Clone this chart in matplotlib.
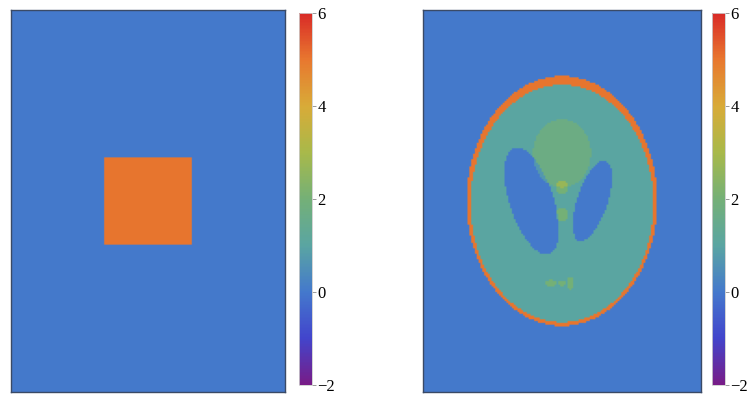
import numpy as np
import matplotlib
matplotlib.use("Agg")
import matplotlib.pyplot as plt
from matplotlib.colors import LinearSegmentedColormap

# ---- data ----
vmin, vmax = -2, 6
cbar_ticks = [-2, 0, 2, 4, 6]
cbar_labels = ["\u22122", "0", "2", "4", "6"]

# left panel: background + square
background_value = 0.0
square_half = 0.32
square_value = 5.0

# right panel: Shepp-Logan style ellipses (amplitude, semi-axis a, semi-axis b, x0, y0, angle deg)
ell_amp = [5.0, -4.0, -1.0, -1.0, 0.7, 1.0, 1.0, 1.0, 1.0, 1.0]
ell_a   = [0.69, 0.6624, 0.11, 0.16, 0.21, 0.046, 0.046, 0.046, 0.023, 0.023]
ell_b   = [0.92, 0.874, 0.31, 0.41, 0.25, 0.046, 0.046, 0.023, 0.023, 0.046]
ell_x0  = [0.0, 0.0, 0.22, -0.22, 0.0, 0.0, 0.0, -0.08, 0.0, 0.06]
ell_y0  = [0.0, -0.0184, 0.0, 0.0, 0.35, 0.1, -0.1, -0.605, -0.606, -0.605]
ell_phi = [0, 0, -18, 18, 0, 0, 0, 0, 0, 0]

# colormap anchor colours (rainbow-like)
cmap_colors = ["#781c87", "#4245cc", "#4479cc", "#5aa5a2", "#74b077",
               "#a8b94a", "#d8ab38", "#e8782f", "#d92b27"]

cmap = LinearSegmentedColormap.from_list("rainbow_m", cmap_colors, N=256)

xr, yr = 1.0, 1.4
nx, ny = 150, 210
xs = np.linspace(-xr, xr, nx)
ys = np.linspace(-yr, yr, ny)
X, Y = np.meshgrid(xs, ys)

left_img = np.full_like(X, background_value)
left_img[(np.abs(X) <= square_half) & (np.abs(Y) <= square_half)] = square_value

right_img = np.full_like(X, background_value)
for A, a, b, x0, y0, phi in zip(ell_amp, ell_a, ell_b, ell_x0, ell_y0, ell_phi):
    t = np.deg2rad(phi)
    xp = (X - x0) * np.cos(t) + (Y - y0) * np.sin(t)
    yp = -(X - x0) * np.sin(t) + (Y - y0) * np.cos(t)
    right_img[(xp / a) ** 2 + (yp / b) ** 2 <= 1] += A

fig = plt.figure(figsize=(7.55, 3.96), dpi=100)

img_axes = [
    fig.add_axes([11 / 755, 4 / 396, 274 / 755, 382 / 396]),
    fig.add_axes([423 / 755, 4 / 396, 278 / 755, 382 / 396]),
]
cb_axes = [
    fig.add_axes([299 / 755, 11 / 396, 13 / 755, 372 / 396]),
    fig.add_axes([712 / 755, 11 / 396, 13 / 755, 372 / 396]),
]

for ax, cax, img in zip(img_axes, cb_axes, [left_img, right_img]):
    im = ax.imshow(img, cmap=cmap, vmin=vmin, vmax=vmax, origin="lower",
                   extent=[-xr, xr, -yr, yr], aspect="auto", interpolation="antialiased")
    ax.set_xticks([])
    ax.set_yticks([])
    for s in ax.spines.values():
        s.set_color("#3a4a66")
        s.set_linewidth(1.0)
    cb = fig.colorbar(im, cax=cax, ticks=cbar_ticks)
    cb.ax.set_yticklabels(cbar_labels, fontfamily="Liberation Serif", fontsize=12)
    cb.ax.tick_params(length=3, width=0.6, color="#888888", pad=1)
    cb.outline.set_edgecolor("#cccccc")
    cb.outline.set_linewidth(0.6)

fig.savefig("out.png", dpi=100)
